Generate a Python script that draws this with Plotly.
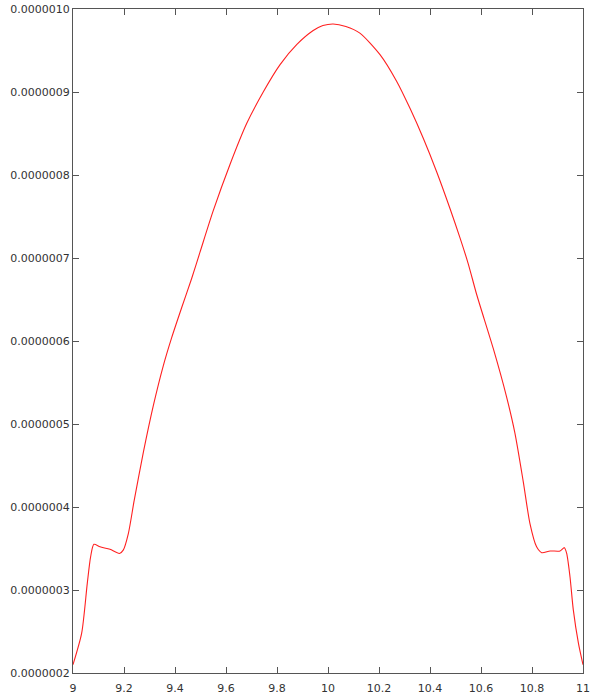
import plotly.graph_objects as go

x_vals = [9.0, 9.034, 9.056, 9.069, 9.082, 9.106, 9.145, 9.182, 9.197, 9.217, 9.24,
          9.276, 9.315, 9.354, 9.387, 9.426, 9.465, 9.498, 9.550, 9.616, 9.681,
          9.746, 9.812, 9.877, 9.942, 9.98, 10.02, 10.07, 10.125, 10.204, 10.269, 10.322,
          10.374, 10.426, 10.478, 10.518, 10.55, 10.583, 10.648, 10.70, 10.733,
          10.766, 10.792, 10.818, 10.838, 10.871, 10.910, 10.927, 10.936, 10.949,
          10.962, 10.982, 11.0]
y_vals = [2.10, 2.48, 3.08, 3.40, 3.55, 3.52, 3.49, 3.44, 3.48, 3.68, 4.08,
          4.66, 5.22, 5.70, 6.04, 6.40, 6.75, 7.07, 7.57, 8.13, 8.62,
          9.00, 9.33, 9.57, 9.74, 9.80, 9.82, 9.79, 9.71, 9.45, 9.13, 8.80,
          8.44, 8.04, 7.60, 7.24, 6.93, 6.56, 5.91, 5.33, 4.89,
          4.30, 3.80, 3.52, 3.45, 3.47, 3.47, 3.51, 3.44, 3.16,
          2.76, 2.36, 2.10]
y_vals = [v * 1e-7 for v in y_vals]

x_ticks = [9, 9.2, 9.4, 9.6, 9.8, 10, 10.2, 10.4, 10.6, 10.8, 11]
x_tick_labels = ["9", "9.2", "9.4", "9.6", "9.8", "10", "10.2", "10.4", "10.6", "10.8", "11"]
y_ticks = [2e-7, 3e-7, 4e-7, 5e-7, 6e-7, 7e-7, 8e-7, 9e-7, 1e-6]
y_tick_labels = ["0.0000002", "0.0000003", "0.0000004", "0.0000005", "0.0000006",
                 "0.0000007", "0.0000008", "0.0000009", "0.0000010"]

fig = go.Figure()
fig.add_trace(go.Scatter(x=x_vals, y=y_vals, mode="lines",
                         line=dict(color="#ff2020", width=1.1, shape="spline", smoothing=0.7),
                         showlegend=False, hoverinfo="skip"))

axis_common = dict(showgrid=False, zeroline=False, showline=True, linecolor="#555555",
                   linewidth=1, mirror="allticks", ticks="inside", ticklen=6,
                   tickcolor="#555555", tickwidth=1, automargin=False,
                   tickfont=dict(family="DejaVu Sans", size=11, color="#333333"))

fig.update_xaxes(range=[9, 11], tickvals=x_ticks, ticktext=x_tick_labels, ticklabelstandoff=5, **axis_common)
fig.update_yaxes(range=[2e-7, 1e-6], tickvals=y_ticks, ticktext=y_tick_labels, **axis_common)

fig.update_layout(width=595, height=700, margin=dict(l=73, r=12, t=9, b=27),
                  plot_bgcolor="white", paper_bgcolor="white")

fig.write_html("out.html", config={"displayModeBar": False},
               post_script="document.body.style.margin='0';")
